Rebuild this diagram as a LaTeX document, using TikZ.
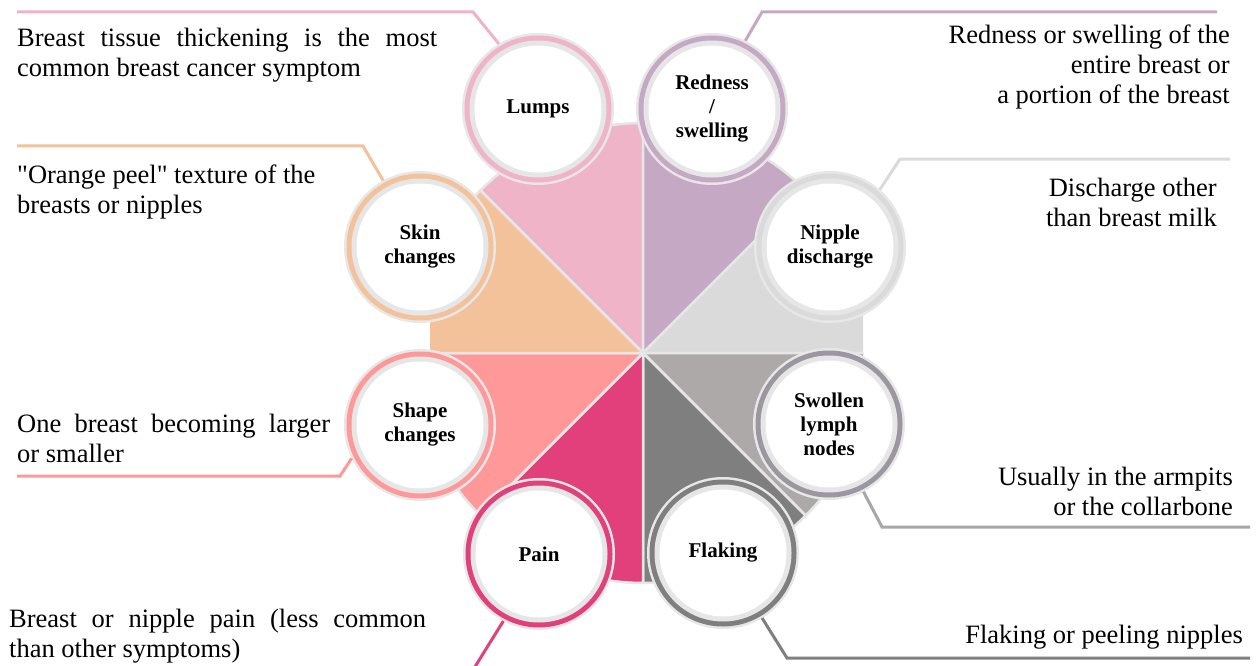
\documentclass[tikz,border=0pt]{standalone}
\usepackage{fontspec}
\setmainfont{Liberation Serif}[Ligatures=TeXOff]
\definecolor{lumpsc}{HTML}{EFB4C7}
\definecolor{rednessc}{HTML}{C5A8C3}
\definecolor{nipplec}{HTML}{DBDADB}
\definecolor{swollenc}{HTML}{ADA9A9}
\definecolor{swollenring}{HTML}{9C96A0}
\definecolor{swollenline}{HTML}{A8A6A6}
\definecolor{flakingc}{HTML}{7F7F7F}
\definecolor{painc}{HTML}{E1407B}
\definecolor{shapec}{HTML}{FF9898}
\definecolor{skinc}{HTML}{F3C29B}
\definecolor{halogray}{HTML}{E7E7E7}
\definecolor{ringgray}{HTML}{E6E6E6}
\definecolor{divider}{HTML}{E6E6E6}
% one symptom bubble: name, centre, ring colour, label
\newcommand\ringnode[4]{%
  \node[halo] (#1) at (#2) {};
  \fill[#3] (#1.center) circle[radius=73.5pt];
  \fill[ringgray] (#1.center) circle[radius=68.5pt];
  \fill[white] (#1.center) circle[radius=63.5pt];
  \node[lbl] (#1-text) at (#1.center) {#4};
}
\begin{document}
\begin{tikzpicture}[x=1pt,y=-1pt,
  halo/.style={circle, fill=halogray, minimum size=152pt, inner sep=0pt, outer sep=0pt},
  lbl/.style={align=center, font=\fontsize{21}{24}\selectfont\bfseries, inner sep=0pt},
  desc/.style={inner sep=0pt, font=\fontsize{26.5}{30}\selectfont},
  leader/.style={line width=3pt, line cap=butt, line join=miter},
  wedge/.style={draw=divider, line width=2.5pt, line join=round}
]
\useasboundingbox (0,0) rectangle (1258,666);
\fill[white] (0,0) rectangle (1258,666);

% central pie of eight sectors
\coordinate (O) at (643,353);
\begin{scope}
  \clip (430,0) rectangle (863,666);
  \foreach \a/\c in {90/lumpsc, 45/rednessc, 0/nipplec, -45/swollenc,
                     -90/flakingc, -135/painc, 180/shapec, 135/skinc}{
    \filldraw[wedge, fill=\c] (O) -- ++(\a:230pt)
      arc[start angle=\a, end angle=\a+45, radius=230pt] -- cycle;
  }
\end{scope}

% symptom bubbles
\ringnode{lumps}{538,109}{lumpsc}{Lumps}
\ringnode{redness}{712,109}{rednessc}{Redness\\/\\swelling}
\ringnode{nipple}{830,247}{nipplec}{Nipple\\discharge}
\ringnode{swollen}{829,424}{swollenring}{Swollen\\lymph\\nodes}
\ringnode{flaking}{723,553}{flakingc}{Flaking}
\ringnode{pain}{539,554}{painc}{Pain}
\ringnode{shape}{420,425}{shapec}{Shape\\changes}
\ringnode{skin}{420,247}{skinc}{Skin\\changes}

% leader lines
\coordinate (lumpsK) at (473,12);   \coordinate (lumpsE) at (17,12);
\coordinate (rednessK) at (762,12); \coordinate (rednessE) at (1217,12);
\coordinate (nippleK) at (900,159); \coordinate (nippleE) at (1230,159);
\coordinate (skinK) at (363,146);   \coordinate (skinE) at (17,146);
\coordinate (shapeK) at (340,476);  \coordinate (shapeE) at (17,476);
\coordinate (swollenK) at (882,527);\coordinate (swollenE) at (1250,527);
\coordinate (flakingK) at (787,658);\coordinate (flakingE) at (1250,658);
\coordinate (painE) at (473,670);

\draw[leader, lumpsc] (lumps.121) -- (lumpsK) -- (lumpsE);
\draw[leader, rednessc] (redness.64) -- (rednessK) -- (rednessE);
\draw[leader, nipplec] (nipple.49) -- (nippleK) -- (nippleE);
\draw[leader, skinc] (skin.119) -- (skinK) -- (skinE);
\draw[leader, shapec] (shape.206) -- (shapeK) -- (shapeE);
\draw[leader, painc] (pain.242) -- (painE);
\draw[leader, swollenline] (swollen.297) -- (swollenK) -- (swollenE);
\draw[leader, flakingc] (flaking.301) -- (flakingK) -- (flakingE);

% descriptions
\node[desc, anchor=base west] (lumps-desc) at (17,47)
  {\parbox[t]{420pt}{Breast tissue thickening is the most\linebreak common breast cancer symptom}};
\node[desc, anchor=base east] (redness-desc) at (1230,44)
  {\parbox[t]{400pt}{\raggedleft Redness or swelling of the\\entire breast or\\a portion of the breast}};
\node[desc, anchor=base east] (nipple-desc) at (1217,196)
  {\parbox[t]{300pt}{\raggedleft Discharge other\\than breast milk}};
\node[desc, anchor=base west] (skin-desc) at (17,183)
  {\parbox[t]{400pt}{\raggedright "Orange peel" texture of the\\breasts or nipples}};
\node[desc, anchor=base west] (shape-desc) at (17,432)
  {\parbox[t]{313pt}{One breast becoming larger\linebreak or smaller}};
\node[desc, anchor=base east] (swollen-desc) at (1233,485)
  {\parbox[t]{300pt}{\raggedleft Usually in the armpits\\or the collarbone}};
\node[desc, anchor=base west] (pain-desc) at (9,627)
  {\parbox[t]{417pt}{Breast or nipple pain (less common\linebreak than other symptoms)}};
\node[desc, anchor=base east] (flaking-desc) at (1243,643)
  {Flaking or peeling nipples};
\end{tikzpicture}
\end{document}
